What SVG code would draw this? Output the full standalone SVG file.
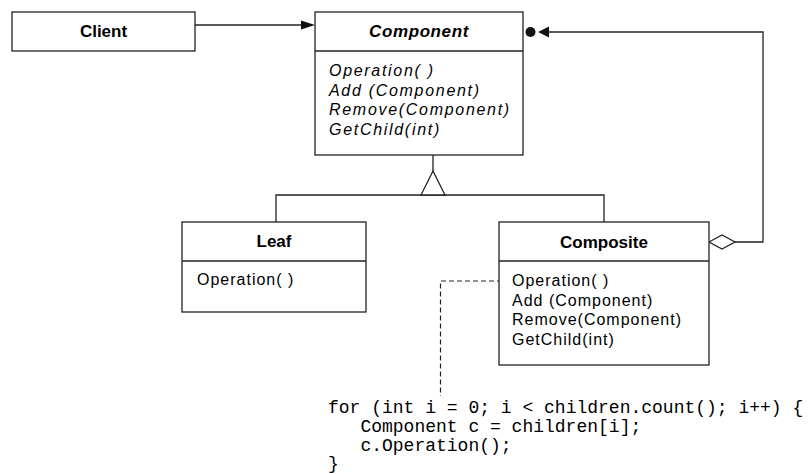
<svg xmlns="http://www.w3.org/2000/svg" width="810" height="474" viewBox="0 0 810 474">
  <style>
    .box { fill: #ffffff; stroke: #222222; stroke-width: 1.3; }
    .line { fill: none; stroke: #222222; stroke-width: 1.3; }
    .dash { fill: none; stroke: #222222; stroke-width: 1.2; stroke-dasharray: 5 3; }
    .head { fill: #111111; }
    .title { font-family: "Liberation Sans", Arial, sans-serif; font-size: 17px; font-weight: bold; text-anchor: middle; fill: #000000; }
    .op { font-family: "Liberation Sans", Arial, sans-serif; font-size: 16px; letter-spacing: 1px; fill: #000000; }
    .abstract { font-style: italic; letter-spacing: 1.7px; }
    .code { font-family: "Liberation Mono", "Courier New", monospace; font-size: 18px; fill: #000000; }
  </style>

  <!-- connectors -->
  <g id="connectors">
    <!-- Client -> Component association -->
    <line class="line" x1="195" y1="25" x2="303" y2="25"/>
    <polygon class="head" points="315,25 301,20.5 301,29.5"/>

    <!-- Composite aggregates Component children -->
    <polyline class="line" points="548,32 763,32 763,242 735,242"/>
    <circle class="head" cx="530.5" cy="32" r="5"/>
    <polygon class="head" points="538,32 549,26.5 549,37.5"/>
    <polygon class="box" points="709,242 722,235 735,242 722,249"/>

    <!-- inheritance tree -->
    <line class="line" x1="433" y1="155" x2="433" y2="171"/>
    <polyline class="line" points="276,222 276,195 604,195 604,222"/>
    <polygon class="box" points="433,171 421,195 445,195"/>

    <!-- note link from Composite Operation() to its code -->
    <polyline class="dash" points="502,281 440.5,281 440.5,396"/>
  </g>

  <g id="client">
    <rect class="box" x="12" y="12" width="183" height="39"/>
    <text class="title" x="103.5" y="37">Client</text>
  </g>

  <g id="component">
    <rect class="box" x="315" y="12" width="208" height="143"/>
    <line class="line" x1="315" y1="51" x2="523" y2="51"/>
    <text class="title" x="419" y="37" style="font-style:italic;letter-spacing:0.6px">Component</text>
    <text class="op abstract" x="329" y="76">Operation( )</text>
    <text class="op abstract" x="329" y="95.5">Add (Component)</text>
    <text class="op abstract" x="329" y="115">Remove(Component)</text>
    <text class="op abstract" x="329" y="134.5">GetChild(int)</text>
  </g>

  <g id="leaf">
    <rect class="box" x="182" y="222" width="184" height="90"/>
    <line class="line" x1="182" y1="261" x2="366" y2="261"/>
    <text class="title" x="274" y="247">Leaf</text>
    <text class="op" x="197" y="285">Operation( )</text>
  </g>

  <g id="composite">
    <rect class="box" x="499" y="222" width="210" height="143"/>
    <line class="line" x1="499" y1="261" x2="709" y2="261"/>
    <text class="title" x="604" y="248">Composite</text>
    <text class="op" x="512" y="286">Operation( )</text>
    <text class="op" x="512" y="305.5">Add (Component)</text>
    <text class="op" x="512" y="325">Remove(Component)</text>
    <text class="op" x="512" y="344.5">GetChild(int)</text>
  </g>

  <g id="code">
    <text class="code" x="328" y="413">for (int i = 0; i &lt; children.count(); i++) {</text>
    <text class="code" x="360.4" y="432">Component c = children[i];</text>
    <text class="code" x="360.4" y="451">c.Operation();</text>
    <text class="code" x="328" y="469">}</text>
  </g>
</svg>
